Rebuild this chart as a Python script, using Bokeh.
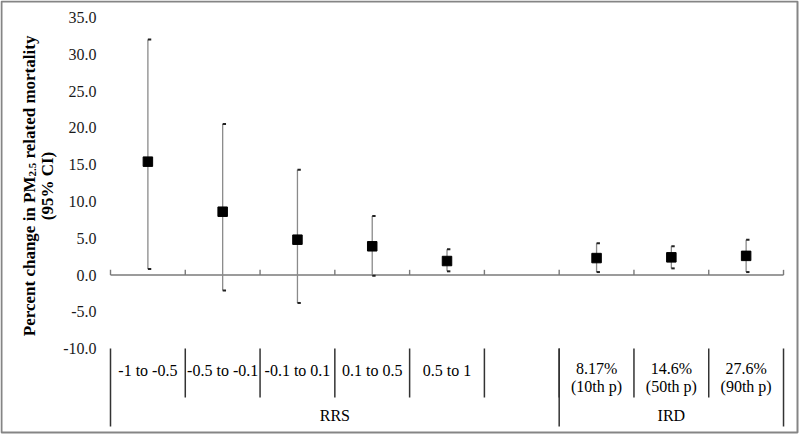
from bokeh.plotting import figure
from bokeh.models import Range1d, ColumnDataSource
from bokeh.core.properties import value
from bokeh.embed import file_html
from bokeh.resources import INLINE

# ---- data ----
rrs_labels = ["-1 to -0.5", "-0.5 to -0.1", "-0.1 to 0.1", "0.1 to 0.5", "0.5 to 1"]
ird_labels_top = ["8.17%", "14.6%", "27.6%"]
ird_labels_bottom = ["(10th p)", "(50th p)", "(90th p)"]
group_labels = ["RRS", "IRD"]

estimate = [15.4, 8.6, 4.8, 3.9, 1.9, 2.3, 2.4, 2.6]
lower = [0.8, -2.1, -3.8, -0.1, 0.5, 0.4, 0.9, 0.4]
upper = [32.0, 20.5, 14.3, 8.0, 3.5, 4.3, 3.9, 4.8]

y_ticks = [-10, -5, 0, 5, 10, 15, 20, 25, 30, 35]

# slot layout: 5 RRS slots, one empty slot, 3 IRD slots
n_rrs = len(rrs_labels)
n_gap = 1
n_ird = len(ird_labels_top)
n_slots = n_rrs + n_gap + n_ird
rrs_x = [i + 0.5 for i in range(n_rrs)]
ird_x = [n_rrs + n_gap + i + 0.5 for i in range(n_ird)]
xs = rrs_x + ird_x

W, H = 800, 434
X0_PX, X_SCALE = 110.0, 74.78      # pixel of x=0, px per slot
Y0_PX, Y_SCALE = 274.5, 7.36       # pixel of y=0, px per unit

def dx(px):
    return (px - X0_PX) / X_SCALE

def dy(py):
    return (Y0_PX - py) / Y_SCALE

FONT = value("Liberation Serif")
FS = "16px"

p = figure(width=W, height=H, output_backend="svg", toolbar_location=None,
           x_range=Range1d(dx(0), dx(W)), y_range=Range1d(dy(H), dy(0)),
           x_axis_location=None, y_axis_location=None, min_border=0)
p.outline_line_color = None
p.xgrid.visible = False
p.ygrid.visible = False
p.background_fill_color = "white"
p.border_fill_color = "white"

# picture border
p.quad(left=[dx(1)], right=[dx(797)], top=[dy(1)], bottom=[dy(432)],
       fill_color=None, line_color="#858585", line_width=2)

# y tick labels
p.text(x=[dx(96)] * len(y_ticks), y=y_ticks, text=["%.1f" % t for t in y_ticks],
       text_font=FONT, text_font_size=FS, text_align="right", text_baseline="middle",
       text_color="#1a1a1a")

# zero line with boundary ticks
p.segment(x0=[0], y0=[0], x1=[n_slots], y1=[0], line_color="#7a7a7a", line_width=1.6)
bounds = list(range(n_slots + 1))
p.segment(x0=bounds, y0=[0] * len(bounds), x1=bounds, y1=[0.7] * len(bounds),
          line_color="#7a7a7a", line_width=1.4)

# error bars
src = ColumnDataSource(dict(x=xs, est=estimate, lo=lower, hi=upper,
                            xc=[x + 0.045 for x in xs]))
p.segment(x0="x", y0="lo", x1="x", y1="hi", source=src, line_color="#8a8a8a", line_width=1.3)
p.segment(x0="x", y0="hi", x1="xc", y1="hi", source=src, line_color="#222222", line_width=2)
p.segment(x0="x", y0="lo", x1="xc", y1="lo", source=src, line_color="#222222", line_width=2)
p.scatter(x="x", y="est", source=src, marker="square", size=9.5, fill_color="black",
          line_color="black")

# category table lines
row_top = dy(348)
row1_bottom = dy(397)
row2_bottom = dy(426)
short_lines = [i for i in range(1, n_slots)]
p.segment(x0=short_lines, y0=[row_top] * len(short_lines), x1=short_lines,
          y1=[row1_bottom] * len(short_lines), line_color="#333333", line_width=1.5)
long_lines = [0, n_rrs + n_gap, n_slots]
p.segment(x0=long_lines, y0=[row_top] * 3, x1=long_lines, y1=[row2_bottom] * 3,
          line_color="#333333", line_width=1.5)

# category labels
p.text(x=rrs_x, y=[dy(370)] * n_rrs, text=rrs_labels, text_font=FONT,
       text_font_size=FS, text_align="center", text_baseline="middle", text_color="black")
p.text(x=ird_x, y=[dy(368)] * n_ird, text=ird_labels_top, text_font=FONT,
       text_font_size=FS, text_align="center", text_baseline="middle", text_color="black")
p.text(x=ird_x, y=[dy(386)] * n_ird, text=ird_labels_bottom, text_font=FONT,
       text_font_size=FS, text_align="center", text_baseline="middle", text_color="black")
grp_x = [(0 + n_rrs + n_gap) / 2, (n_rrs + n_gap + n_slots) / 2]
p.text(x=grp_x, y=[dy(415)] * 2, text=group_labels, text_font=FONT,
       text_font_size=FS, text_align="center", text_baseline="middle", text_color="black")

# y-axis title (rotated, with subscript)
ANG = 1.5707963267948966
def title_piece(x, y, text, size, align):
    p.text(x=[x], y=[y], text=[text], angle=ANG, text_font=FONT, text_font_size=size,
           text_font_style="bold", text_align=align, text_baseline="alphabetic",
           text_color="black")

title_piece(dx(29), dy(176), "Percent change in PM", "17px", "right")
title_piece(dx(32), dy(176), "2.5", "11px", "left")
title_piece(dx(29), dy(158), "related mortality", "17px", "left")
title_piece(dx(47), dy(185.5), "(95% CI)", "17px", "center")

open("out.html", "w").write(file_html(p, INLINE))
